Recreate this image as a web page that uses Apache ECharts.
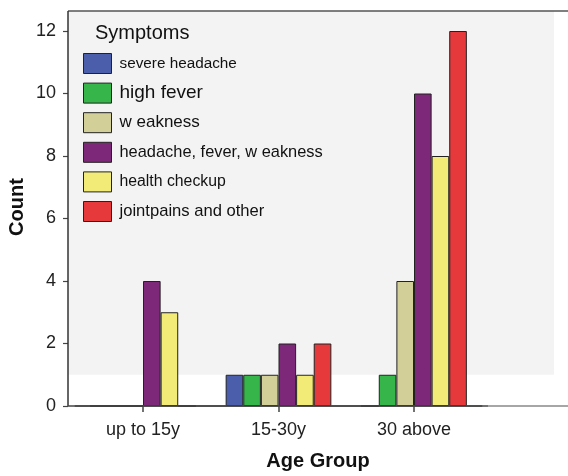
<!DOCTYPE html>
<html>
<head>
<meta charset="utf-8">
<script src="https://cdn.jsdelivr.net/npm/echarts@6/dist/echarts.min.js"></script>
<style>
  html, body { margin: 0; padding: 0; background: #fff; }
  #chart { width: 568px; height: 476px; }
</style>
</head>
<body>
<div id="chart"></div>
<script>
// Age groups on the horizontal axis
const ageGroups = ['up to 15y', '15-30y', '30 above'];

// Symptom series (counts per age group)
const severeHeadache = [0, 1, 0];
const highFever = [0, 1, 1];
const weakness = [0, 1, 4];
const headacheFeverWeakness = [4, 2, 10];
const healthCheckup = [3, 1, 8];
const jointpainsOther = [0, 2, 12];

const symptomNames = [
  'severe headache',
  'high fever',
  'w eakness',
  'headache, fever, w eakness',
  'health checkup',
  'jointpains and other'
];
const symptomValues = [
  severeHeadache, highFever, weakness,
  headacheFeverWeakness, healthCheckup, jointpainsOther
];
const symptomColors = ['#4A5EAB', '#36B64A', '#D3CF98', '#7D2878', '#F2EB77', '#E5393B'];
const legendFontSizes = [15.3, 19, 17, 16.4, 15.8, 16.6];

// Y axis ticks
const countTicks = [0, 2, 4, 6, 8, 10, 12];

const sans = '"Liberation Sans", Arial, sans-serif';

const chart = echarts.init(document.getElementById('chart'), null, { renderer: 'canvas' });

const option = {
  animation: false,
  backgroundColor: '#ffffff',
  grid: { left: 75.25, right: 86.25, top: 31, bottom: 70, containLabel: false },
  title: {
    text: 'Symptoms',
    left: 90, top: 18,
    textStyle: { fontFamily: sans, fontSize: 20, fontWeight: 'normal', color: '#111' }
  },
  legend: {
    orient: 'vertical',
    left: 83, top: 53,
    padding: 0,
    itemWidth: 28, itemHeight: 20, itemGap: 8.6,
    icon: 'rect',
    itemStyle: { borderColor: '#222', borderWidth: 1 },
    data: symptomNames.map((n, i) => ({
      name: n,
      textStyle: { fontFamily: sans, fontSize: legendFontSizes[i], lineHeight: 20, color: '#111', padding: [0, 0, 0, 3] }
    })),
    selectedMode: false
  },
  xAxis: {
    type: 'category',
    data: ageGroups,
    axisLine: { show: true, lineStyle: { color: '#444', width: 1.5 } },
    axisTick: { show: true, alignWithLabel: true, length: 6, lineStyle: { color: '#444', width: 1.5 } },
    axisLabel: { fontFamily: sans, fontSize: 18, color: '#222', margin: 15 },
    splitLine: { show: false }
  },
  yAxis: {
    type: 'value',
    min: countTicks[0],
    max: countTicks[countTicks.length - 1],
    interval: 2,
    offset: 7.25,
    axisLine: { show: false },
    axisTick: { show: true, length: 5, lineStyle: { color: '#444', width: 1.2 } },
    axisLabel: { fontFamily: sans, fontSize: 18, color: '#222', margin: 12 },
    splitLine: { show: false }
  },
  series: symptomNames.map((n, i) => ({
    name: n,
    type: 'bar',
    data: symptomValues[i],
    barGap: '0%',
    barCategoryGap: '22%',
    itemStyle: { color: symptomColors[i], borderColor: '#222', borderWidth: 1 },
    z: 3
  }))
};

chart.setOption(option);

// Frame, shaded backdrop and axis titles, positioned from the grid's own scales
function drawFrame() {
  const yZero = chart.convertToPixel({ yAxisIndex: 0 }, 0);
  const yOne = chart.convertToPixel({ yAxisIndex: 0 }, 1);
  const yTop = chart.convertToPixel({ yAxisIndex: 0 }, 12) - 20;
  const left = 68, right = 568;
  const shadeRight = 554;
  const darkEnd = 488;
  chart.setOption({
    graphic: [
      { type: 'rect', z: -10, silent: true,
        shape: { x: left, y: yTop, width: shadeRight - left, height: yOne - yTop },
        style: { fill: '#F3F3F3' } },
      { type: 'line', z: 10, silent: true,
        shape: { x1: left, y1: yTop, x2: right, y2: yTop },
        style: { stroke: '#555', lineWidth: 1.5 } },
      { type: 'line', z: 10, silent: true,
        shape: { x1: left, y1: yTop, x2: left, y2: yZero },
        style: { stroke: '#333', lineWidth: 1.5 } },
      { type: 'line', z: 10, silent: true,
        shape: { x1: left, y1: yZero, x2: darkEnd, y2: yZero },
        style: { stroke: '#444', lineWidth: 1.5 } },
      { type: 'line', z: 10, silent: true,
        shape: { x1: darkEnd, y1: yZero, x2: right, y2: yZero },
        style: { stroke: '#888', lineWidth: 1.5 } },
      { type: 'text', z: 10, silent: true,
        style: { text: 'Age Group', x: (left + right) / 2, y: 461, align: 'center', verticalAlign: 'middle',
                 font: 'bold 20px "Liberation Sans", Arial, sans-serif', fill: '#111' } },
      { type: 'text', z: 10, silent: true, rotation: Math.PI / 2,
        x: 17, y: 207,
        style: { text: 'Count', x: 0, y: 0, align: 'center', verticalAlign: 'middle',
                 font: 'bold 20px "Liberation Sans", Arial, sans-serif', fill: '#111' } }
    ]
  });
}
drawFrame();
</script>
</body>
</html>
